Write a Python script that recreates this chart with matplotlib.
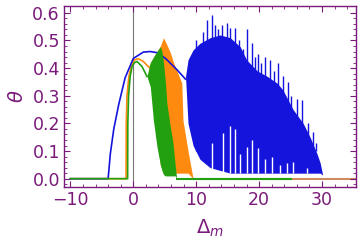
import matplotlib
matplotlib.use("Agg")
import matplotlib.pyplot as plt

# smooth parts (x, theta)
blue_x = [-10, -4.0, -3.65, -3.1, -2.3, -1.3, 0.0, 1.6, 2.7, 4.0, 5.35, 6.9, 8.3]
blue_y = [0, 0, 0.09, 0.18, 0.27, 0.365, 0.435, 0.458, 0.46, 0.455, 0.43, 0.395, 0.36]
orange_x = [-10, -1.15, -1.12, -1.0, -0.7, -0.3, 0.2, 0.8, 1.6, 2.4]
orange_y = [0, 0, 0.2, 0.3, 0.37, 0.41, 0.43, 0.434, 0.424, 0.405]
green_x = [-10, -0.9, -0.87, -0.75, -0.5, -0.2, 0.2, 0.6, 1.38, 2.17]
green_y = [0, 0, 0.2, 0.3, 0.37, 0.405, 0.42, 0.424, 0.406, 0.37]

# oscillating bands: upper / lower envelopes
blue_band_x = [8.3, 8.7, 9.5, 10.6, 12.2, 13.8, 15.4, 17.0, 18.0, 19.7, 21.3, 22.9,
               23.8, 25.4, 27.0, 28.1, 29.2, 29.7, 30.1]
blue_upper = [0.37, 0.43, 0.466, 0.49, 0.51, 0.52, 0.51, 0.477, 0.43, 0.39, 0.37, 0.345,
              0.32, 0.25, 0.2, 0.15, 0.09, 0.057, 0.013]
blue_lower = [0.37, 0.2, 0.12, 0.07, 0.04, 0.03, 0.02, 0.02, 0.02, 0.02, 0.02, 0.02,
              0.02, 0.02, 0.02, 0.02, 0.02, 0.02, 0.013]
blue_spike_x = [10.0, 11.0, 11.7, 12.5, 13.0, 13.5, 14.1, 14.9, 15.4, 16.2, 16.8, 17.5,
                18.1, 18.9, 19.3, 19.8, 20.3, 21.0, 21.7, 22.3, 23.0, 23.8, 24.6, 25.0,
                26.0, 26.8, 27.8, 28.5, 29.0]
blue_spike_y = [0.5, 0.53, 0.575, 0.593, 0.557, 0.54, 0.557, 0.564, 0.546, 0.546, 0.5,
                0.47, 0.54, 0.49, 0.44, 0.45, 0.42, 0.44, 0.43, 0.39, 0.42, 0.37, 0.35,
                0.3, 0.29, 0.285, 0.2, 0.17, 0.13]
blue_gap_x = [12.5, 14.2, 15.4, 16.2, 17.0, 18.1, 18.9, 19.8, 20.9, 22.0, 23.3, 24.4,
              25.4, 27.6]
blue_gap_y = [0.13, 0.165, 0.19, 0.18, 0.09, 0.115, 0.14, 0.11, 0.07, 0.08, 0.05, 0.055,
              0.06, 0.04]

orange_band_x = [2.4, 3.5, 4.3, 4.8, 5.35, 5.9, 6.4, 7.1, 7.7, 7.8, 7.9, 8.7, 9.5]
orange_upper = [0.405, 0.45, 0.48, 0.51, 0.484, 0.455, 0.42, 0.38, 0.347, 0.28, 0.21, 0.1, 0.0]
orange_lower = [0.405, 0.2, 0.05, 0.02, 0.02, 0.02, 0.02, 0.02, 0.02, 0.02, 0.02, 0.02, 0.0]
orange_tail_x = [9.5, 35.5]
orange_tail_y = [0, 0]

green_band_x = [2.17, 2.7, 3.2, 3.76, 4.3, 4.55, 4.8, 5.1, 5.35, 5.8, 6.3, 6.7, 6.9]
green_upper = [0.37, 0.42, 0.44, 0.46, 0.478, 0.46, 0.42, 0.35, 0.27, 0.2, 0.13, 0.04, 0.0]
green_lower = [0.37, 0.333, 0.21, 0.116, 0.05, 0.03, 0.015, 0.01, 0.01, 0.01, 0.01, 0.01, 0.0]
green_tail_x = [6.9, 25.0]
green_tail_y = [0, 0]

BLUE = "#1414dc"
ORANGE = "#ff8a10"
GREEN = "#22a010"
TAIL = "#cf8a60"
PURPLE = "#7a1a7a"

fig = plt.figure(figsize=(3.6, 2.47), dpi=100)
ax = fig.add_axes([0.178, 0.243, 0.811, 0.733])
lw = 1.2

# orange (bottom layer)
ax.fill_between(orange_band_x, orange_lower, orange_upper, color=ORANGE, lw=0, zorder=1)
ax.plot(orange_x, orange_y, color=ORANGE, lw=lw, zorder=1.1)
ax.plot(orange_tail_x, orange_tail_y, color=TAIL, lw=lw + 0.3, zorder=1.1)

# blue
ax.fill_between(blue_band_x, blue_lower, blue_upper, color=BLUE, lw=0, zorder=2)
ax.vlines(blue_spike_x, 0.1, blue_spike_y, color=BLUE, lw=1.0, zorder=2)
ax.vlines(blue_gap_x, 0.02, blue_gap_y, color="white", lw=1.0, zorder=2.05)
ax.plot(blue_x, blue_y, color=BLUE, lw=lw, zorder=2.1)

# green (top layer)
ax.fill_between(green_band_x, green_lower, green_upper, color=GREEN, lw=0, zorder=3)
ax.plot(green_x, green_y, color=GREEN, lw=lw, zorder=3.1)
ax.plot(green_tail_x, green_tail_y, color=GREEN, lw=lw + 0.3, zorder=3.1)

ax.axvline(0, color="#777777", lw=0.8, zorder=0.5)

ax.set_xlim(-11, 35.4)
ax.set_ylim(-0.03, 0.625)
ax.set_xticks([-10, 0, 10, 20, 30])
ax.set_yticks([0.0, 0.1, 0.2, 0.3, 0.4, 0.5, 0.6])
ax.set_yticklabels(["0.0", "0.1", "0.2", "0.3", "0.4", "0.5", "0.6"])
ax.set_xticks([-8, -6, -4, -2, 2, 4, 6, 8, 12, 14, 16, 18, 22, 24, 26, 28, 32, 34], minor=True)
ax.set_yticks([0.02 * i for i in range(-1, 31) if i % 5 != 0], minor=True)
ax.tick_params(which="both", direction="in", color=PURPLE, top=True, right=True,
               labeltop=False, labelright=False)
ax.tick_params(which="major", length=4, width=0.8, labelsize=12.5, labelcolor=PURPLE, pad=3)
ax.tick_params(which="minor", length=2, width=0.6)
for s in ax.spines.values():
    s.set_color(PURPLE)
    s.set_linewidth(1.0)

ax.set_ylabel(r"$\theta$", color=PURPLE, fontsize=14, labelpad=4)
ax.set_xlabel(r"$\Delta_m$", color=PURPLE, fontsize=14, labelpad=6)

fig.savefig("out.png", dpi=100)
